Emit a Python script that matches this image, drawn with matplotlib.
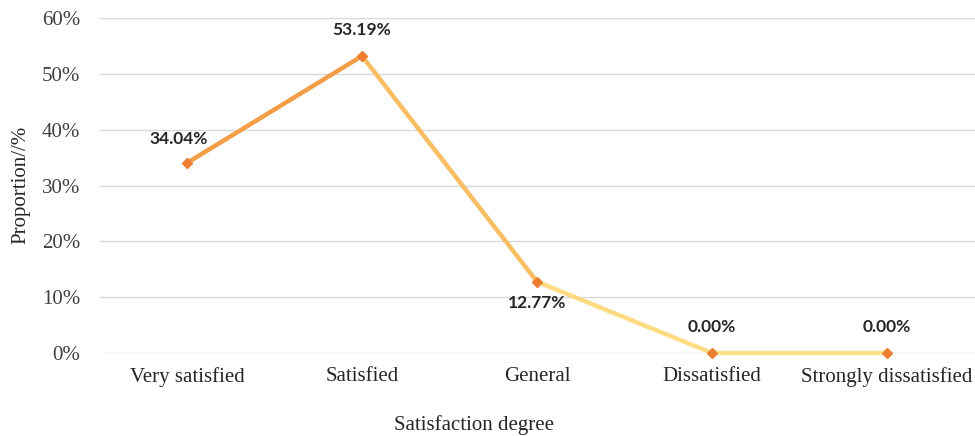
import matplotlib
matplotlib.use("Agg")
import matplotlib.pyplot as plt
import numpy as np
from matplotlib.collections import LineCollection
from matplotlib.colors import LinearSegmentedColormap

categories = ["Very satisfied", "Satisfied", "General", "Dissatisfied", "Strongly dissatisfied"]
values = [34.04, 53.19, 12.77, 0.00, 0.00]
value_labels = ["34.04%", "53.19%", "12.77%", "0.00%", "0.00%"]
yticks = [0, 10, 20, 30, 40, 50, 60]

fig = plt.figure(figsize=(9.75, 4.36), dpi=100)
ax = fig.add_axes([99.5 / 975, 1 - 353 / 436, 875 / 975, (353 - 18) / 436])

x = np.arange(len(categories))
y = np.array(values)

cmap = LinearSegmentedColormap.from_list(
    "grad", [(0.0, "#FFE08A"), (0.6, "#F8BE64"), (0.8, "#F39C46"), (1.0, "#EE8A38")])
pts = np.column_stack([x, y])
segs = np.stack([pts[:-1], pts[1:]], axis=1)
mids = (y[:-1] + y[1:]) / 2.0
lc = LineCollection(segs, colors=cmap(mids / 55.0), linewidths=3.2, capstyle="round",
                    joinstyle="round", zorder=3)
lc.set_clip_on(False)
ax.add_collection(lc)
ax.plot(x, y, linestyle="none", marker="D", markersize=5.5, color="#ED7D31", zorder=4, clip_on=False)

offsets = [(-0.05, 4.3), (0.0, 4.6), (0.0, -3.9), (0.0, 4.6), (0.0, 4.6)]
for xi, yi, lab, (dx, dy) in zip(x, y, value_labels, offsets):
    ax.text(xi + dx, yi + dy, lab, ha="center", va="center", fontsize=12.5,
            fontweight="bold", family="Lato", color="#262626", zorder=5)

ax.set_xlim(-0.5, 4.5)
ax.set_ylim(0, 60)
ax.set_yticks(yticks)
ax.set_yticklabels([f"{t}%" for t in yticks], family="Liberation Serif", fontsize=15, color="#404040")
ax.set_xticks(x)
ax.set_xticklabels(categories, family="Liberation Serif", fontsize=15, color="#262626")
ax.tick_params(axis="both", length=0)
ax.tick_params(axis="y", pad=14)
ax.tick_params(axis="x", pad=10)
ax.grid(axis="y", color="#D9D9D9", linewidth=1)
ax.set_axisbelow(True)
for s in ax.spines.values():
    s.set_visible(False)

fig.text(474 / 975, 1 - 425 / 436, "Satisfaction degree", ha="center", va="center",
         family="Liberation Serif", fontsize=15, color="#262626")
fig.text(21 / 975, 1 - 185 / 436, "Proportion//%", ha="center", va="center", rotation=90,
         family="Liberation Serif", fontsize=15, color="#262626")

fig.savefig("out.png", dpi=100)
